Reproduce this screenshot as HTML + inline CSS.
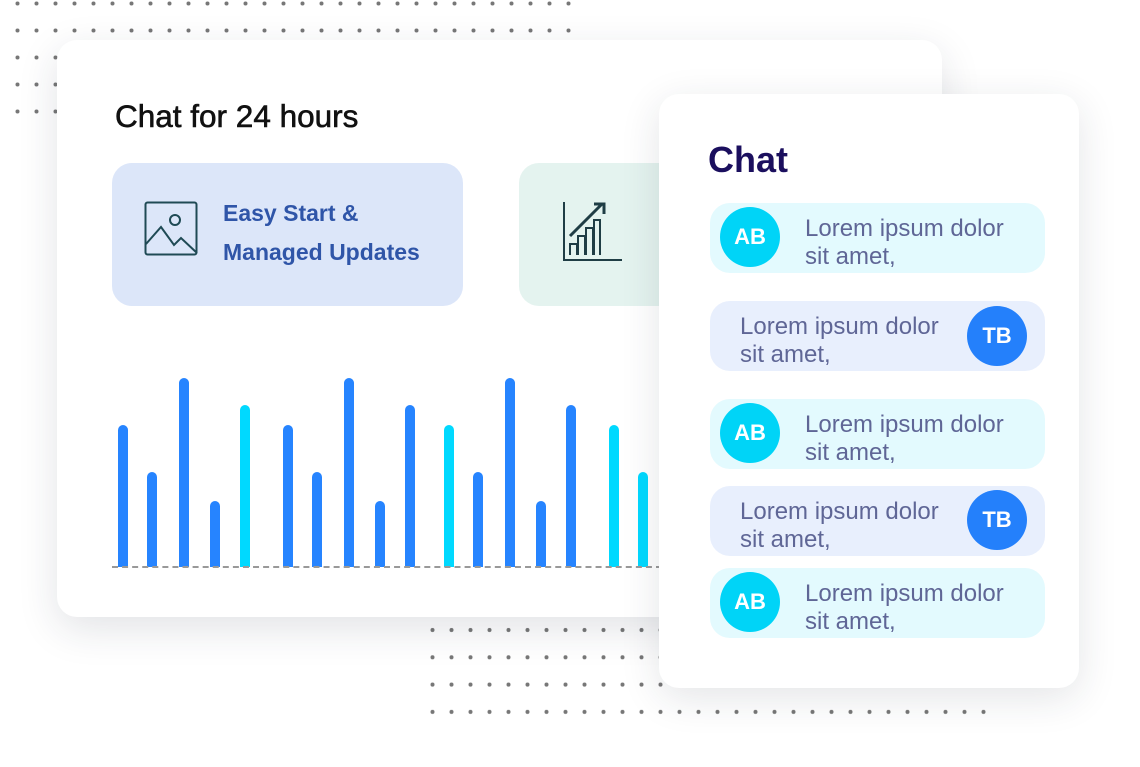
<!DOCTYPE html>
<html><head><meta charset="utf-8"><style>
*{margin:0;padding:0;box-sizing:border-box}
body{width:1140px;height:767px;background:#fff;position:relative;overflow:hidden;font-family:"Liberation Sans",sans-serif}
.abs{position:absolute}
.card{position:absolute;background:#fff;border-radius:20px}
.bar{position:absolute;width:10px;border-radius:5px 5px 0 0;bottom:200px}
.bub{position:absolute;left:710px;width:335px;height:70px;border-radius:20px}
.av{position:absolute;width:60px;height:60px;border-radius:50%;color:#fff;font-weight:bold;font-size:22px;text-align:center;line-height:60px}
.tx{position:absolute;font-size:24px;line-height:28px;color:#5f6696}
</style></head><body>
<svg class="abs" style="left:0;top:0" width="1140" height="767">
<defs>
<pattern id="d" x="8" y="-6" width="19" height="27" patternUnits="userSpaceOnUse"><circle cx="9.5" cy="9.5" r="2" fill="#777"/></pattern>
<pattern id="d2" x="423" y="621" width="19" height="27.3" patternUnits="userSpaceOnUse"><circle cx="9.5" cy="9" r="2" fill="#777"/></pattern>
</defs>
<rect x="8" y="0" width="570" height="125" fill="url(#d)"/>
<rect x="423" y="618" width="570" height="105" fill="url(#d2)"/>
</svg>
<div class="card" style="left:57px;top:40px;width:885px;height:577px;box-shadow:0 12px 40px rgba(30,40,60,0.13)"></div>
<div class="abs" style="left:115px;top:98px;font-size:31.5px;color:#111;-webkit-text-stroke:0.6px #111">Chat for 24 hours</div>
<div class="abs" style="left:112px;top:163px;width:351px;height:143px;border-radius:20px;background:#dce6f9"></div>
<svg class="abs" style="left:144px;top:201px" width="56" height="56"><rect x="1.5" y="1.5" width="51" height="52" rx="2" fill="none" stroke="#1f4a55" stroke-width="2"/><circle cx="31" cy="19" r="5" fill="none" stroke="#1f4a55" stroke-width="2"/><path d="M2 43 L17 26 L30 44 L37 37 L53 52" fill="none" stroke="#1f4a55" stroke-width="2"/></svg>
<div class="abs" style="left:223px;top:194px;font-size:23px;line-height:39px;color:#2f55a8;font-weight:bold">Easy Start &amp;<br>Managed Updates</div>
<div class="abs" style="left:519px;top:163px;width:200px;height:143px;border-radius:20px;background:#e4f3ef"></div>
<svg class="abs" style="left:560px;top:200px" width="64" height="64"><path d="M4 2V60H62" fill="none" stroke="#1f3d45" stroke-width="2"/><path d="M10 55V44H17V55M18 55V36H25V55M26 55V28H33V55M34 55V20H40V55" fill="none" stroke="#1f3d45" stroke-width="2"/><path d="M10 36L42 4M34 4H44V14" fill="none" stroke="#1f3d45" stroke-width="3"/></svg>
<div class="bar" style="left:118px;top:425px;background:#2684ff"></div>
<div class="bar" style="left:147px;top:472px;background:#2684ff"></div>
<div class="bar" style="left:179px;top:378px;background:#2684ff"></div>
<div class="bar" style="left:210px;top:501px;background:#2684ff"></div>
<div class="bar" style="left:240px;top:405px;background:#00d9ff"></div>
<div class="bar" style="left:283px;top:425px;background:#2684ff"></div>
<div class="bar" style="left:312px;top:472px;background:#2684ff"></div>
<div class="bar" style="left:344px;top:378px;background:#2684ff"></div>
<div class="bar" style="left:375px;top:501px;background:#2684ff"></div>
<div class="bar" style="left:405px;top:405px;background:#2684ff"></div>
<div class="bar" style="left:444px;top:425px;background:#00d9ff"></div>
<div class="bar" style="left:473px;top:472px;background:#2684ff"></div>
<div class="bar" style="left:505px;top:378px;background:#2684ff"></div>
<div class="bar" style="left:536px;top:501px;background:#2684ff"></div>
<div class="bar" style="left:566px;top:405px;background:#2684ff"></div>
<div class="bar" style="left:609px;top:425px;background:#00d9ff"></div>
<div class="bar" style="left:638px;top:472px;background:#00d9ff"></div>
<div class="abs" style="left:112px;top:566px;width:550px;border-top:2px dashed #999"></div>
<div class="card" style="left:659px;top:94px;width:420px;height:594px;box-shadow:0 10px 40px rgba(30,40,60,0.12)"></div>
<div class="abs" style="left:708px;top:139px;font-size:36px;font-weight:bold;color:#1b0f5e">Chat</div>
<div class="bub" style="top:203px;background:#e3fafe"></div>
<div class="av" style="left:720px;top:207px;background:#00d4f7">AB</div>
<div class="tx" style="left:805px;top:215px">Lorem ipsum dolor<br>sit amet,</div>
<div class="bub" style="top:301px;background:#e8effd"></div>
<div class="av" style="left:967px;top:306px;background:#2480fb">TB</div>
<div class="tx" style="left:740px;top:313px">Lorem ipsum dolor<br>sit amet,</div>
<div class="bub" style="top:399px;background:#e3fafe"></div>
<div class="av" style="left:720px;top:403px;background:#00d4f7">AB</div>
<div class="tx" style="left:805px;top:411px">Lorem ipsum dolor<br>sit amet,</div>
<div class="bub" style="top:486px;background:#e8effd"></div>
<div class="av" style="left:967px;top:490px;background:#2480fb">TB</div>
<div class="tx" style="left:740px;top:498px">Lorem ipsum dolor<br>sit amet,</div>
<div class="bub" style="top:568px;background:#e3fafe"></div>
<div class="av" style="left:720px;top:572px;background:#00d4f7">AB</div>
<div class="tx" style="left:805px;top:580px">Lorem ipsum dolor<br>sit amet,</div>
</body></html>
